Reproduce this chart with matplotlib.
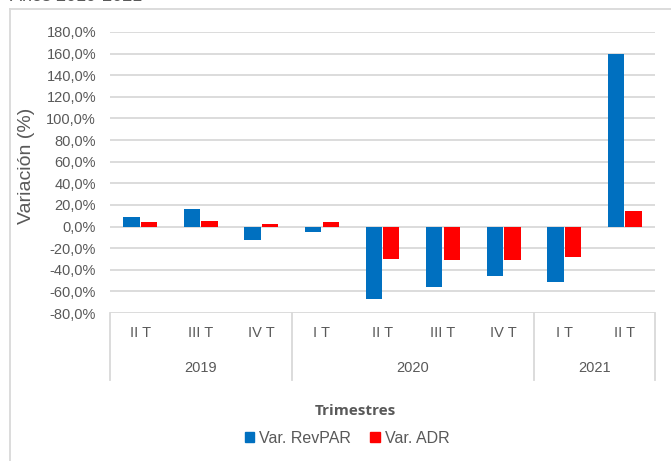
import numpy as np
import matplotlib
matplotlib.use('Agg')
import matplotlib.pyplot as plt
from matplotlib.lines import Line2D
from matplotlib.patches import Patch

quarters = ['II T', 'III T', 'IV T', 'I T', 'II T', 'III T', 'IV T', 'I T', 'II T']
years = ['2019', '2020', '2021']
year_sizes = [3, 4, 2]
var_revpar = [8.4, 15.8, -12.0, -4.6, -67.5, -55.7, -45.5, -51.0, 159.5]
var_adr = [4.0, 5.5, 2.0, 4.0, -30.0, -31.0, -31.0, -28.0, 14.0]

W, H = 671, 461
text_color = '#595959'
grid_color = '#D9D9D9'
plt.rcParams['font.family'] = ['Liberation Sans', 'DejaVu Sans']

fig = plt.figure(figsize=(W / 100, H / 100), dpi=100)
ax = fig.add_axes([110 / W, 1 - 313 / H, 545 / W, (313 - 32) / H])

x = np.arange(len(quarters))
bw = 0.27
ax.bar(x - 0.145, var_revpar, bw, color='#0070C0', zorder=3, label='Var. RevPAR')
ax.bar(x + 0.145, var_adr, bw, color='#FF0000', zorder=3, label='Var. ADR')

ax.set_xlim(-0.5, len(quarters) - 0.5)
ax.set_ylim(-80, 180)
ax.set_yticks(np.arange(-80, 181, 20))
ax.set_yticklabels(['{:.1f}%'.format(v).replace('.', ',') for v in np.arange(-80, 181, 20)])
ax.tick_params(axis='y', length=0, pad=10, labelsize=10.5, labelcolor=text_color)
ax.set_xticks([])
ax.grid(axis='y', color=grid_color, linewidth=1.3, zorder=0)
for s in ax.spines.values():
    s.set_visible(False)
ax.set_ylabel('Variación (%)', fontsize=14, color=text_color)
ax.yaxis.set_label_coords((35 - 110) / 545, 1 - (166 - 32) / 281)

# category table below the axis
trans = ax.get_xaxis_transform()
table_h = (380 - 313) / (313 - 32)
for i, q in enumerate(quarters):
    ax.text(i, -(333 - 313) / (313 - 32), q, transform=trans, ha='center', va='center',
            fontsize=10.5, color=text_color)
edges = np.concatenate([[0], np.cumsum(year_sizes)]) - 0.5
for i, yr in enumerate(years):
    mid = (edges[i] + edges[i + 1]) / 2
    ax.text(mid, -(368 - 313) / (313 - 32), yr, transform=trans, ha='center', va='center',
            fontsize=10.5, color=text_color)
for e in edges:
    ax.add_line(Line2D([e, e], [0, -table_h], transform=trans, color=grid_color,
                       linewidth=1.3, clip_on=False))

fig.text(355 / W, 1 - 411 / H, 'Trimestres', ha='center', va='center', fontsize=11,
         fontweight='bold', color=text_color, family=['Open Sans', 'DejaVu Sans'])

handles = [Patch(color='#0070C0'), Patch(color='#FF0000')]
fig.legend(handles, ['Var. RevPAR', 'Var. ADR'], loc='center', bbox_to_anchor=(347 / W, 1 - 438 / H),
           ncol=2, frameon=False, fontsize=11.5, labelcolor=text_color, handlelength=0.6,
           handleheight=0.6, handletextpad=0.3, columnspacing=1.2, borderpad=0)

# outer chart border
fig.add_artist(Line2D([10 / W, 10 / W], [1 - 9 / H, 0], color=grid_color, linewidth=1.3))
fig.add_artist(Line2D([10 / W, 1], [1 - 9 / H, 1 - 9 / H], color=grid_color, linewidth=1.3))

# title cut off at the top of the image
fig.text(10 / W, 1 - 1.2 / H, 'Años 2019-2021', ha='left', va='baseline', fontsize=13,
         color=text_color)

fig.savefig('out.png', dpi=100)
